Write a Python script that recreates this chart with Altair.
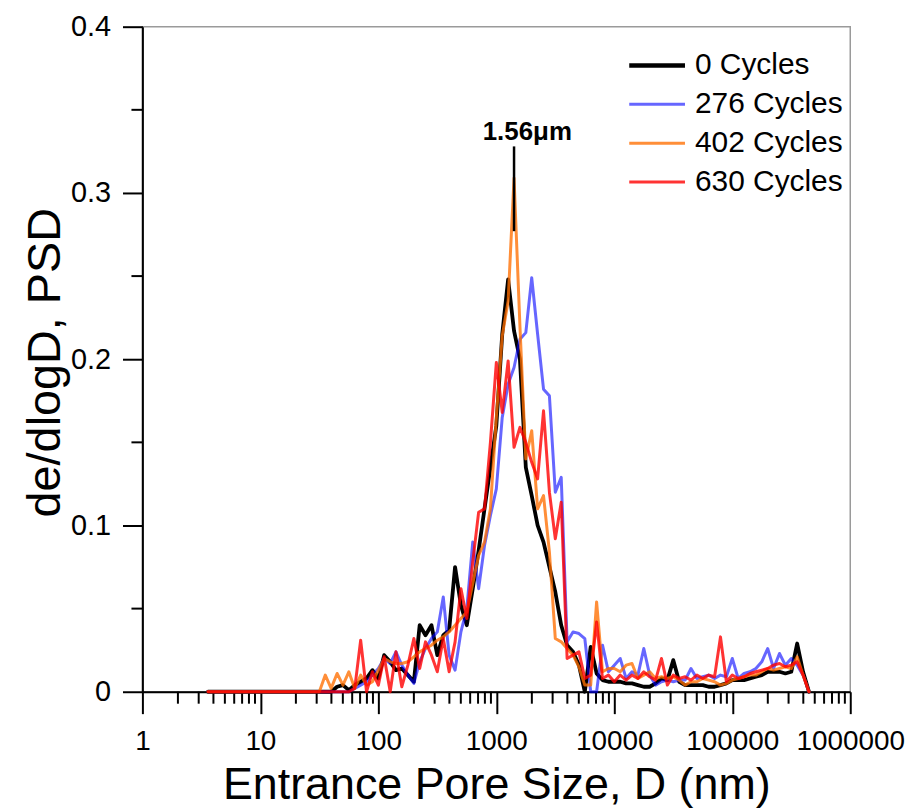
import altair as alt
import pandas as pd

# ---------------- data ----------------
pore_size_nm = [3.6, 31.6, 35.5, 39.8, 44.7, 50.1, 56.2, 63.1, 70.8, 79.4, 89.1,
                100, 112, 126, 141, 158, 178, 200, 224, 251, 282, 316, 355, 398, 447,
                501, 562, 631, 708, 794, 891, 1000, 1122, 1259, 1413, 1585, 1778, 1995,
                2239, 2512, 2818, 3162, 3548, 3981, 4467, 5012, 5623, 6310, 7079, 7943,
                8913, 10000, 11220, 12589, 14125, 15849, 17783, 19953, 22387, 25119,
                28184, 31623, 35481, 39811, 44668, 50119, 56234, 63096, 70795, 79433,
                89125, 100000, 112202, 125893, 141254, 158489, 177828, 199526, 223872,
                251189, 281838, 316228, 354813, 398107, 446684]

psd_0_cycles = [0, 0, 0, 0, 0.003, 0.004, 0.001, 0.004, 0.006, 0.008, 0.013,
                0.008, 0.022, 0.018, 0.013, 0.014, 0.010, 0.006, 0.040, 0.034, 0.040, 0.022, 0.034, 0.037, 0.075,
                0.052, 0.040, 0.062, 0.085, 0.110, 0.135, 0.160, 0.215, 0.248, 0.217, 0.200, 0.135, 0.118,
                0.100, 0.090, 0.075, 0.060, 0.040, 0.028, 0.024, 0.016, 0.000, 0.027, 0.011, 0.007,
                0.006, 0.006, 0.006, 0.005, 0.005, 0.004, 0.003, 0.003, 0.005, 0.008,
                0.007, 0.019, 0.006, 0.004, 0.004, 0.004, 0.004, 0.003, 0.003, 0.004,
                0.005, 0.007, 0.007, 0.007, 0.008, 0.009, 0.010, 0.012, 0.012,
                0.012, 0.011, 0.012, 0.029, 0.012, 0]

psd_276_cycles = [0, 0, 0, 0, 0, 0, 0, 0.002, 0.004, 0.006, 0.010,
                  0.014, 0.020, 0.017, 0.024, 0.016, 0.010, 0.005, 0.018, 0.026, 0.032, 0.036, 0.057, 0.022, 0.013,
                  0.036, 0.050, 0.090, 0.062, 0.088, 0.106, 0.122, 0.165, 0.185, 0.195, 0.212, 0.216, 0.249,
                  0.215, 0.182, 0.178, 0.120, 0.129, 0.030, 0.036, 0.035, 0.032, 0.000, 0.000, 0.028,
                  0.012, 0.016, 0.020, 0.008, 0.012, 0.010, 0.026, 0.010, 0.004, 0.006,
                  0.007, 0.006, 0.007, 0.007, 0.014, 0.008, 0.009, 0.010, 0.008, 0.010,
                  0.009, 0.020, 0.008, 0.011, 0.012, 0.014, 0.018, 0.026, 0.014,
                  0.023, 0.016, 0.020, 0.016, 0.010, 0]

psd_402_cycles = [0, 0, 0.010, 0.002, 0.011, 0.004, 0.012, 0.002, 0.010, 0.004, 0.006,
                  0.013, 0.020, 0.018, 0.017, 0.017, 0.018, 0.021, 0.024, 0.026, 0.028, 0.031, 0.033, 0.036, 0.040,
                  0.044, 0.048, 0.065, 0.082, 0.090, 0.110, 0.165, 0.214, 0.235, 0.309, 0.220, 0.140, 0.157,
                  0.110, 0.118, 0.084, 0.032, 0.030, 0.026, 0.022, 0.015, 0.004, 0.004, 0.054, 0.012,
                  0.014, 0.014, 0.012, 0.016, 0.017, 0.008, 0.010, 0.012, 0.008, 0.009,
                  0.008, 0.009, 0.007, 0.004, 0.006, 0.006, 0.008, 0.007, 0.006, 0.004,
                  0.005, 0.007, 0.008, 0.009, 0.010, 0.010, 0.012, 0.014, 0.013,
                  0.014, 0.015, 0.014, 0.021, 0.010, 0]

psd_630_cycles = [0, 0, 0, 0, 0, 0, 0, 0.002, 0.031, 0.000, 0.012,
                  0.004, 0.021, 0.000, 0.024, 0.003, 0.016, 0.032, 0.014, 0.030, 0.022, 0.012, 0.032, 0.012, 0.030,
                  0.062, 0.044, 0.078, 0.108, 0.110, 0.150, 0.198, 0.168, 0.199, 0.147, 0.159, 0.150, 0.138,
                  0.128, 0.169, 0.120, 0.092, 0.114, 0.020, 0.022, 0.024, 0.008, 0.010, 0.042, 0.008,
                  0.010, 0.006, 0.010, 0.007, 0.010, 0.008, 0.012, 0.009, 0.007, 0.020,
                  0.004, 0.010, 0.008, 0.009, 0.007, 0.010, 0.008, 0.010, 0.009, 0.033,
                  0.006, 0.010, 0.008, 0.009, 0.011, 0.012, 0.013, 0.014, 0.016,
                  0.017, 0.015, 0.016, 0.018, 0.010, 0]

series_names = ["0 Cycles", "276 Cycles", "402 Cycles", "630 Cycles"]
series_values = [psd_0_cycles, psd_276_cycles, psd_402_cycles, psd_630_cycles]
series_colors = ["#000000", "rgba(0,0,255,0.6)", "rgba(255,110,0,0.78)", "rgba(255,0,0,0.8)"]
series_widths = [3.8, 3, 3, 3]

x_major_ticks = [1, 10, 100, 1000, 10000, 100000, 1000000]
x_minor_ticks = [2, 3, 4, 5, 6, 7, 8, 9,
                 20, 30, 40, 50, 60, 70, 80, 90,
                 200, 300, 400, 500, 600, 700, 800, 900,
                 2000, 3000, 4000, 5000, 6000, 7000, 8000, 9000,
                 20000, 30000, 40000, 50000, 60000, 70000, 80000, 90000,
                 200000, 300000, 400000, 500000, 600000, 700000, 800000, 900000]
y_major_ticks = [0, 0.1, 0.2, 0.3, 0.4]
y_minor_ticks = [0.05, 0.15, 0.25, 0.35]

peak_label = "1.56\u03bcm"
peak_size = [1413]
peak_line_low = [0.277]
peak_line_high = [0.328]
label_size = [1830]
label_psd = [0.3317]

# ---------------- build tables ----------------
rows = []
for name, vals in zip(series_names, series_values):
    for s, v in zip(pore_size_nm, vals):
        rows.append({"size": s, "psd": v, "series": name})
df = pd.DataFrame(rows)

FONT = "Liberation Sans"
W, H = 711, 668

x_enc = alt.X("size:Q",
              scale=alt.Scale(type="log", domain=[1, 1000000], nice=False),
              axis=alt.Axis(values=x_major_ticks, format="d", title="Entrance Pore Size, D (nm)",
                            tickSize=22, labelPadding=14, labelFontSize=28,
                            titleFontSize=45, titleBaseline="alphabetic", titleY=107,
                            labelFlush=False, labelOverlap=False))
y_enc = alt.Y("psd:Q",
              scale=alt.Scale(domain=[0, 0.4], nice=False, zero=True),
              axis=alt.Axis(values=y_major_ticks, format=".1~f", title="de/dlogD, PSD",
                            tickSize=20, labelPadding=12, labelFontSize=29,
                            titleFontSize=47, titleAngle=270, titleBaseline="alphabetic",
                            titleX=-83, titleY=337, titleAlign="center"))

color_enc = alt.Color("series:N",
                      scale=alt.Scale(domain=series_names, range=series_colors),
                      legend=alt.Legend(title=None, orient="none", legendX=482, legendY=24,
                                        symbolType="stroke", symbolSize=3136, symbolOffset=20,
                                        symbolStrokeWidth={"expr": "datum.value === '0 Cycles' ? 4.5 : 3"},
                                        rowPadding=9, padding=0,
                                        labelFontSize=30, labelFont=FONT, labelColor="black",
                                        labelOffset=23, labelLimit=300))

layers = []
for name, sw in zip(series_names, series_widths):
    layers.append(
        alt.Chart(df).transform_filter(alt.datum.series == name)
        .mark_line(strokeWidth=sw, strokeJoin="round", strokeCap="round")
        .encode(x=x_enc, y=y_enc, color=color_enc)
    )

minor_x = alt.Chart(pd.DataFrame({"size": x_minor_ticks})).mark_rule(
    color="black", strokeWidth=2).encode(x=x_enc, y=alt.value(H), y2=alt.value(H + 12))
minor_y = alt.Chart(pd.DataFrame({"psd": y_minor_ticks})).mark_rule(
    color="black", strokeWidth=2).encode(y=y_enc, x=alt.value(-11), x2=alt.value(0))

peak_rule = alt.Chart(pd.DataFrame({"size": peak_size, "psd": peak_line_low, "psd2": peak_line_high})
                      ).mark_rule(color="black", strokeWidth=2.5).encode(x=x_enc, y=y_enc, y2="psd2:Q")
peak_text = alt.Chart(pd.DataFrame({"size": label_size, "psd": label_psd, "label": [peak_label]})
                      ).mark_text(font=FONT, fontSize=26, fontWeight="bold", color="black",
                                  align="center", baseline="alphabetic").encode(x=x_enc, y=y_enc, text="label:N")

chart = alt.layer(minor_x, minor_y, *layers, peak_rule, peak_text).properties(
    width=W, height=H,
    autosize=alt.AutoSizeParams(type="none"),
    padding={"left": 135, "top": 17, "right": 58, "bottom": 116},
    background="white",
).configure_view(
    stroke="#9a9a9a", strokeWidth=1.5
).configure_axis(
    grid=False, domainColor="black", domainWidth=2, tickColor="black", tickWidth=2,
    labelFont=FONT, titleFont=FONT, labelColor="black", titleColor="black",
    titleFontWeight="normal"
)

chart.save("out.html", embed_options={"renderer": "svg", "actions": False})
